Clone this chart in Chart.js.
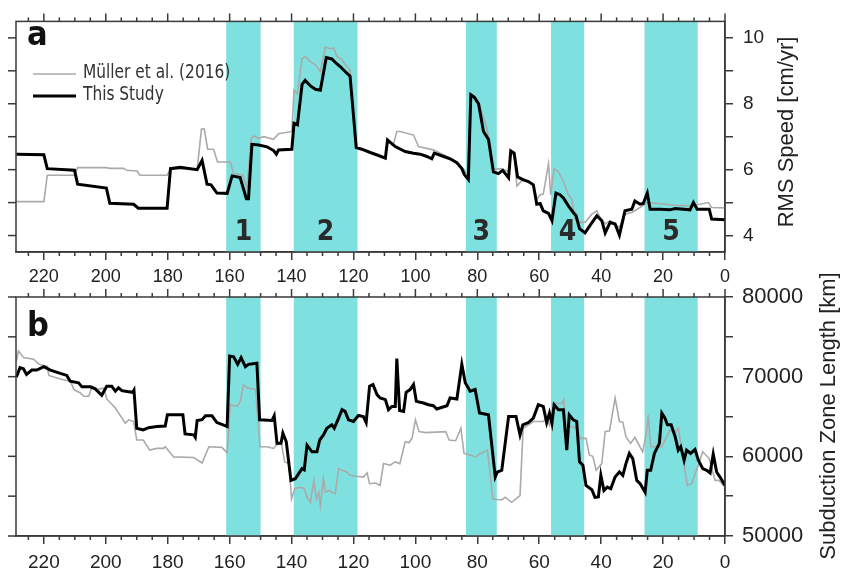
<!DOCTYPE html>
<html>
<head>
<meta charset="utf-8">
<script src="https://cdn.jsdelivr.net/npm/chart.js@4.4.0/dist/chart.umd.min.js"></script>
<style>
  html, body { margin: 0; padding: 0; background: #fff; }
  #wrap { position: relative; width: 845px; height: 573px; overflow: hidden; }
  #wrap canvas { position: absolute; left: 0; }
  #panelA { top: 0; }
  #panelB { top: 250px; }
</style>
</head>
<body>
<div id="wrap">
  <canvas id="panelB" width="845" height="323"></canvas>
  <canvas id="panelA" width="845" height="290"></canvas>
</div>
<script>
// --- data (age in Ma) ---
const studyAgeA = [228.9,220.0,218.9,210.1,209.1,199.8,198.7,191.0,189.5,180.2,179.1,175.9,170.5,168.9,167.3,166.0,164.1,160.8,159.2,156.6,154.6,153.9,152.8,150.6,147.9,145.8,144.9,144.2,139.9,139.2,138.1,136.6,135.6,133.9,132.3,130.7,128.8,127.0,125.6,124.3,122.7,121.1,119.1,117.3,114.6,111.9,109.7,109.0,106.5,103.3,100.6,98.4,96.3,94.7,93.9,90.9,88.8,86.6,85.0,84.2,82.9,82.1,81.0,79.6,78.0,76.4,74.8,73.2,71.8,69.9,69.2,68.1,67.0,65.1,63.5,61.9,60.8,59.7,58.7,57.0,55.9,54.6,53.3,52.2,50.6,49.0,48.1,47.0,45.2,43.6,41.4,39.8,38.7,37.1,35.5,34.1,32.3,30.1,29.1,27.4,26.4,25.1,24.2,21.0,17.8,16.1,11.3,10.2,9.0,5.1,4.3,0.0];
const studySpeed = [6.47,6.45,6.03,5.98,5.56,5.44,4.98,4.95,4.83,4.83,6.03,6.07,6.00,6.28,5.56,5.54,5.29,5.28,5.81,5.76,5.12,5.12,6.77,6.75,6.69,6.58,6.47,6.60,6.62,7.41,7.36,8.59,8.71,8.54,8.44,8.41,9.40,9.36,9.23,9.13,8.98,8.84,6.67,6.62,6.52,6.43,6.35,6.90,6.70,6.55,6.50,6.47,6.40,6.33,6.50,6.40,6.33,6.21,6.03,5.85,5.70,8.27,8.20,8.00,7.16,6.92,5.93,5.88,5.98,5.75,6.57,6.50,5.78,5.69,5.64,5.54,4.95,4.97,4.75,4.67,4.45,5.29,5.24,5.14,4.90,4.70,4.60,4.21,4.08,4.31,4.60,4.45,4.08,4.40,4.35,4.01,4.75,4.80,5.05,4.95,4.97,5.29,4.80,4.80,4.78,4.82,4.78,5.00,4.80,4.80,4.50,4.48];

const mullerAgeA = [228.9,220.0,218.9,210.1,209.1,199.8,198.7,194.2,193.3,189.9,189.0,180.2,178.9,170.5,169.1,168.2,167.1,165.2,163.9,159.8,158.7,155.7,154.4,153.1,152.3,150.6,149.0,145.8,144.2,139.9,139.2,138.1,136.6,135.6,133.9,132.3,130.7,129.1,127.5,126.4,125.3,123.7,122.1,121.1,119.4,117.3,114.6,111.9,109.7,109.0,107.1,106.0,104.9,100.6,99.0,94.2,87.7,84.2,82.9,82.1,79.6,76.9,74.8,72.6,69.9,69.1,68.1,67.2,65.1,61.9,60.8,59.7,58.7,57.0,56.3,55.2,53.8,52.2,50.6,49.5,48.4,46.8,45.2,43.0,41.4,40.3,38.7,37.1,34.1,32.3,30.1,27.4,25.1,22.0,16.1,11.3,8.1,5.4,4.3,0.0];
const mullerSpeed = [5.03,5.03,5.83,5.83,6.06,6.06,6.04,6.04,5.98,5.96,5.83,5.83,6.03,6.00,7.23,7.23,6.62,6.62,6.23,6.23,5.88,5.84,5.44,6.92,7.02,6.95,7.00,6.92,7.09,7.16,8.41,8.30,9.38,9.43,9.28,9.18,8.98,9.72,9.67,9.69,9.43,9.33,9.13,9.03,6.70,6.62,6.52,6.43,6.35,6.90,6.75,7.16,7.16,7.05,6.70,6.60,6.30,6.00,5.75,8.32,8.05,7.26,6.00,6.03,5.95,6.50,6.45,5.50,5.72,5.55,5.10,5.24,5.26,6.18,5.24,6.03,5.93,5.64,5.24,5.10,4.50,4.40,4.40,4.65,4.75,4.55,4.35,4.45,4.25,4.65,4.70,4.85,5.00,4.97,4.92,4.90,4.95,5.00,4.85,4.84];

const studyAgeB = [228.9,227.7,226.6,225.6,223.9,222.3,220.0,217.9,214.7,212.6,211.5,208.8,207.7,205.0,203.4,201.3,199.7,198.1,196.9,195.9,194.8,193.2,191.3,190.9,190.0,187.9,186.2,183.5,180.8,180.1,175.1,174.4,171.6,171.1,170.5,168.9,167.8,165.7,164.1,162.5,160.8,160.0,158.7,157.4,156.3,154.9,153.9,151.2,150.3,146.3,145.6,144.7,143.4,142.8,141.7,140.2,138.8,137.7,136.6,135.9,135.0,133.4,131.8,130.9,129.7,128.6,127.0,126.2,124.8,123.7,122.7,121.6,120.0,118.4,116.8,115.9,114.8,113.7,112.4,111.4,109.7,108.7,107.6,106.5,106.0,105.1,103.8,103.0,101.7,100.6,99.7,97.4,95.8,94.2,93.1,89.8,88.8,86.6,85.0,83.9,82.3,80.7,79.3,76.4,74.2,73.5,72.1,69.9,67.5,66.2,65.3,63.5,61.9,60.3,58.7,57.6,56.7,55.9,55.2,53.8,52.2,51.1,50.3,49.0,47.9,47.0,45.9,44.9,43.0,42.0,40.9,40.1,39.1,38.0,36.9,35.5,34.1,33.0,32.0,30.9,29.8,28.5,27.4,25.8,25.1,24.0,22.8,21.2,20.4,19.4,18.6,17.4,16.1,15.1,14.3,13.2,12.4,11.1,9.7,8.6,7.2,5.9,4.8,3.8,2.7,1.6,0.0];
const studyLength = [69940,71130,71000,70280,70830,70830,71260,70830,70410,70160,69430,69220,68720,68720,68470,67660,68800,68800,68170,68600,68250,68150,68040,68300,63530,63320,63600,63730,63800,65210,65210,62810,62700,62390,64490,64600,65090,65090,64240,64000,63730,72600,72500,71550,72400,71260,71550,71680,64580,64500,65090,61630,61630,62900,61830,56980,57190,57830,58460,58300,61410,60570,60570,62050,62680,63530,63950,63530,64800,65850,65640,64580,64370,65130,65000,64240,68800,69010,67750,67330,67120,65850,66270,66270,72270,65760,65640,68040,68380,69010,66900,66690,66480,66350,65940,66350,67330,67200,71550,69230,68170,68380,65430,65210,57400,58030,58250,65000,65000,62680,63950,64240,64800,66480,66270,64240,65430,64160,66480,65850,65850,60780,65210,64580,64370,59300,58880,56350,55800,54860,54900,57620,55720,56130,55930,57400,58030,57620,59090,60360,59720,56980,56560,55500,58250,58250,60360,61630,65430,64800,63950,63950,62470,60780,61200,59510,60780,60360,60870,59510,58460,58250,57910,60270,58030,57400,56350];

const mullerAgeB = [228.9,228.2,226.6,223.3,221.6,218.9,218.4,214.1,211.4,210.3,208.2,207.1,205.5,204.4,202.8,200.6,199.7,196.9,193.7,192.6,191.0,190.0,187.9,185.8,183.5,181.3,180.8,178.1,171.6,168.9,166.7,162.5,160.8,159.8,157.6,156.6,155.5,154.4,151.6,150.2,147.9,145.8,144.9,143.3,142.2,140.8,140.0,139.0,137.7,136.0,135.0,133.9,132.8,132.0,131.2,130.7,129.7,129.1,128.0,125.9,124.8,123.7,122.1,121.2,118.9,116.8,115.6,114.8,112.9,111.4,110.3,108.2,106.5,105.0,103.3,102.1,101.1,100.0,98.8,96.7,90.2,89.1,87.0,85.3,84.3,82.1,80.5,78.9,76.7,75.0,72.2,71.0,68.9,66.2,65.2,61.9,58.7,57.6,56.7,55.0,52.8,52.1,51.4,49.6,48.0,46.8,44.9,43.8,42.7,41.6,39.8,38.7,37.3,35.5,34.1,33.0,32.0,30.5,29.1,26.6,25.5,24.8,24.0,20.4,17.8,16.1,15.1,13.7,12.2,10.8,9.2,7.2,5.1,3.2,1.9,0.5,0.0];
const mullerLength = [71970,73240,72400,72190,71550,71300,70160,69650,69430,68380,67960,67540,67540,68800,68380,68590,67200,66060,64160,64580,64370,62050,62050,60780,61000,61000,61200,59930,59850,59170,61200,61130,60440,66480,66270,66900,69010,68590,68380,61200,61200,60990,61410,61630,59300,59100,54650,55930,56100,56000,54860,54230,56980,54650,55500,53810,57190,55500,55710,55290,58460,58250,58040,57620,57490,57400,57920,56560,56650,56350,59090,58880,59300,59090,61830,61700,62260,64580,63100,62980,63100,62050,61960,63530,60360,60140,59930,60360,60780,54650,54520,54860,54230,55080,63530,64370,64370,64800,63950,66690,66600,67110,63950,63740,63530,62260,62260,60140,60000,58250,59090,63100,63200,67330,64370,64300,62470,61630,62390,60570,62680,65210,61200,61200,63320,62900,63530,60140,56350,56560,58250,60570,59720,56980,56980,56350,56350];

const ageMax = 229;
const ageTicks = [0, 20, 40, 60, 80, 100, 120, 140, 160, 180, 200, 220];
const speedTicks = [4, 5, 6, 7, 8, 9, 10];
const speedLabels = [4, 6, 8, 10];
const lengthTicks = [50000, 55000, 60000, 65000, 70000, 75000, 80000];
const lengthLabels = [50000, 60000, 70000, 80000];

const bandFrom = [161.1, 139.3, 83.7, 56.2, 26.0];
const bandTo = [150.0, 118.7, 73.7, 45.5, 8.8];
const bandNames = ['1', '2', '3', '4', '5'];

// --- style ---
const FRAME = '#3a3a3a';
const CYAN = '#7fe1df';
const SANS = "'Liberation Sans', Arial, sans-serif";
const NARROW = "'Liberation Sans Narrow', 'DejaVu Sans Condensed', sans-serif";

function pts(xs, ys) {
    return xs.map((x, i) => ({ x: x, y: ys[i] }));
}

function seg(ctx, x1, y1, x2, y2) {
    ctx.beginPath();
    ctx.moveTo(x1, y1);
    ctx.lineTo(x2, y2);
    ctx.stroke();
}

// cyan intervals behind the lines
const bandsPlugin = {
    id: 'bands',
    beforeDatasetsDraw(chart) {
        const { ctx, chartArea: a, scales: { x } } = chart;
        ctx.save();
        ctx.fillStyle = CYAN;
        bandFrom.forEach((b, i) => {
            const x1 = x.getPixelForValue(b);
            const x2 = x.getPixelForValue(bandTo[i]);
            ctx.fillRect(x1, a.top, x2 - x1, a.bottom - a.top);
        });
        if (chart.canvas.id === 'panelA') {
            ctx.fillStyle = '#2a2a2a';
            ctx.font = 'bold 28px ' + NARROW;
            ctx.textAlign = 'center';
            ctx.textBaseline = 'middle';
            bandFrom.forEach((b, i) => {
                const xc = x.getPixelForValue((b + bandTo[i]) / 2);
                ctx.fillText(bandNames[i], xc, 233);
            });
        }
        ctx.restore();
    }
};

// box, minor ticks, top/left ticks, titles, panel letters, legend
const framePlugin = {
    id: 'frame',
    afterDraw(chart) {
        const { ctx, chartArea: a, scales: { x, y } } = chart;
        const isA = chart.canvas.id === 'panelA';
        ctx.save();
        ctx.strokeStyle = FRAME;
        ctx.lineWidth = 1.5;
        ctx.strokeRect(a.left, a.top, a.right - a.left, a.bottom - a.top);
        for (let v = 0; v <= ageMax; v += 5) {
            const px = x.getPixelForValue(v);
            seg(ctx, px, a.top, px, a.top - (v % 20 === 0 ? 8 : 4));
            if (v % 20 !== 0) seg(ctx, px, a.bottom, px, a.bottom + 4);
        }
        y.ticks.forEach(t => {
            const py = y.getPixelForValue(t.value);
            seg(ctx, a.left - 8, py, a.left, py);
        });

        // right-hand axis title, reading upwards
        ctx.fillStyle = '#222';
        ctx.font = '22px ' + SANS;
        ctx.textAlign = 'center';
        ctx.textBaseline = 'middle';
        ctx.save();
        if (isA) {
            ctx.translate(787, 132);
        } else {
            ctx.translate(829, 166);
        }
        ctx.rotate(-Math.PI / 2);
        ctx.fillText(isA ? 'RMS Speed [cm/yr]' : 'Subduction Zone Length [km]', 0, 0);
        ctx.restore();

        // panel letter
        ctx.fillStyle = '#111';
        ctx.font = 'bold 34px ' + NARROW;
        ctx.textAlign = 'left';
        ctx.textBaseline = 'alphabetic';
        ctx.fillText(isA ? 'a' : 'b', 27, isA ? 45 : 86);

        if (isA) {
            ctx.lineWidth = 1.6;
            ctx.strokeStyle = '#aaaaaa';
            seg(ctx, 33, 74, 76, 74);
            ctx.lineWidth = 3;
            ctx.strokeStyle = '#000';
            seg(ctx, 33, 96, 76, 96);
            ctx.fillStyle = '#333';
            ctx.font = '19px ' + NARROW;
            ctx.textBaseline = 'middle';
            ctx.save();
            ctx.scale(0.9, 1);
            ctx.fillText('Müller et al. (2016)', 83 / 0.9, 73);
            ctx.fillText('This Study', 83 / 0.9, 95);
            ctx.restore();
        }
        ctx.restore();
    }
};

function makePanel(id, studyX, studyY, mullerX, mullerY, yMin, yMax, yTicks, yLabels, opt) {
    const canvas = document.getElementById(id);
    const axisGrid = {
        display: true, drawOnChartArea: false, drawTicks: true,
        tickLength: 8, color: FRAME, lineWidth: 1.5
    };
    const axisBorder = { display: true, color: FRAME, width: 1.5 };
    return new Chart(canvas.getContext('2d'), {
        type: 'line',
        data: {
            datasets: [{
                label: 'This Study',
                data: pts(studyX, studyY),
                borderColor: '#000000',
                borderWidth: 3,
                pointRadius: 0,
                tension: 0,
                fill: false
            }, {
                label: 'Müller et al. (2016)',
                data: pts(mullerX, mullerY),
                borderColor: '#aaaaaa',
                borderWidth: 1.6,
                pointRadius: 0,
                tension: 0,
                fill: false
            }]
        },
        options: {
            responsive: false,
            animation: false,
            events: [],
            layout: { padding: { left: 16, top: opt.top, right: 0, bottom: 0 } },
            plugins: { legend: { display: false }, tooltip: { enabled: false } },
            scales: {
                x: {
                    type: 'linear',
                    reverse: true,
                    min: 0,
                    max: ageMax,
                    afterBuildTicks: s => { s.ticks = ageTicks.map(v => ({ value: v })); },
                    afterFit: s => { s.height = opt.xHeight; },
                    grid: axisGrid,
                    border: axisBorder,
                    ticks: {
                        color: '#222',
                        font: { family: SANS, size: opt.xFont },
                        padding: opt.xPad,
                        maxRotation: 0,
                        autoSkip: false
                    }
                },
                y: {
                    type: 'linear',
                    position: 'right',
                    min: yMin,
                    max: yMax,
                    afterBuildTicks: s => { s.ticks = yTicks.map(v => ({ value: v })); },
                    afterFit: s => { s.width = 120; },
                    grid: axisGrid,
                    border: axisBorder,
                    ticks: {
                        color: '#222',
                        font: { family: SANS, size: opt.yFont },
                        padding: opt.yPad,
                        callback: v => yLabels.includes(v) ? String(v) : ''
                    }
                }
            }
        },
        plugins: [bandsPlugin, framePlugin]
    });
}

makePanel('panelA', studyAgeA, studySpeed, mullerAgeA, mullerSpeed, 3.5, 10.5,
    speedTicks, speedLabels, { top: 15, xHeight: 38, xFont: 18, xPad: 6, yFont: 19, yPad: 10 });
makePanel('panelB', studyAgeB, studyLength, mullerAgeB, mullerLength, 50000, 80000,
    lengthTicks, lengthLabels, { top: 47, xHeight: 37, xFont: 19, xPad: 7, yFont: 22, yPad: 9 });
</script>
</body>
</html>
